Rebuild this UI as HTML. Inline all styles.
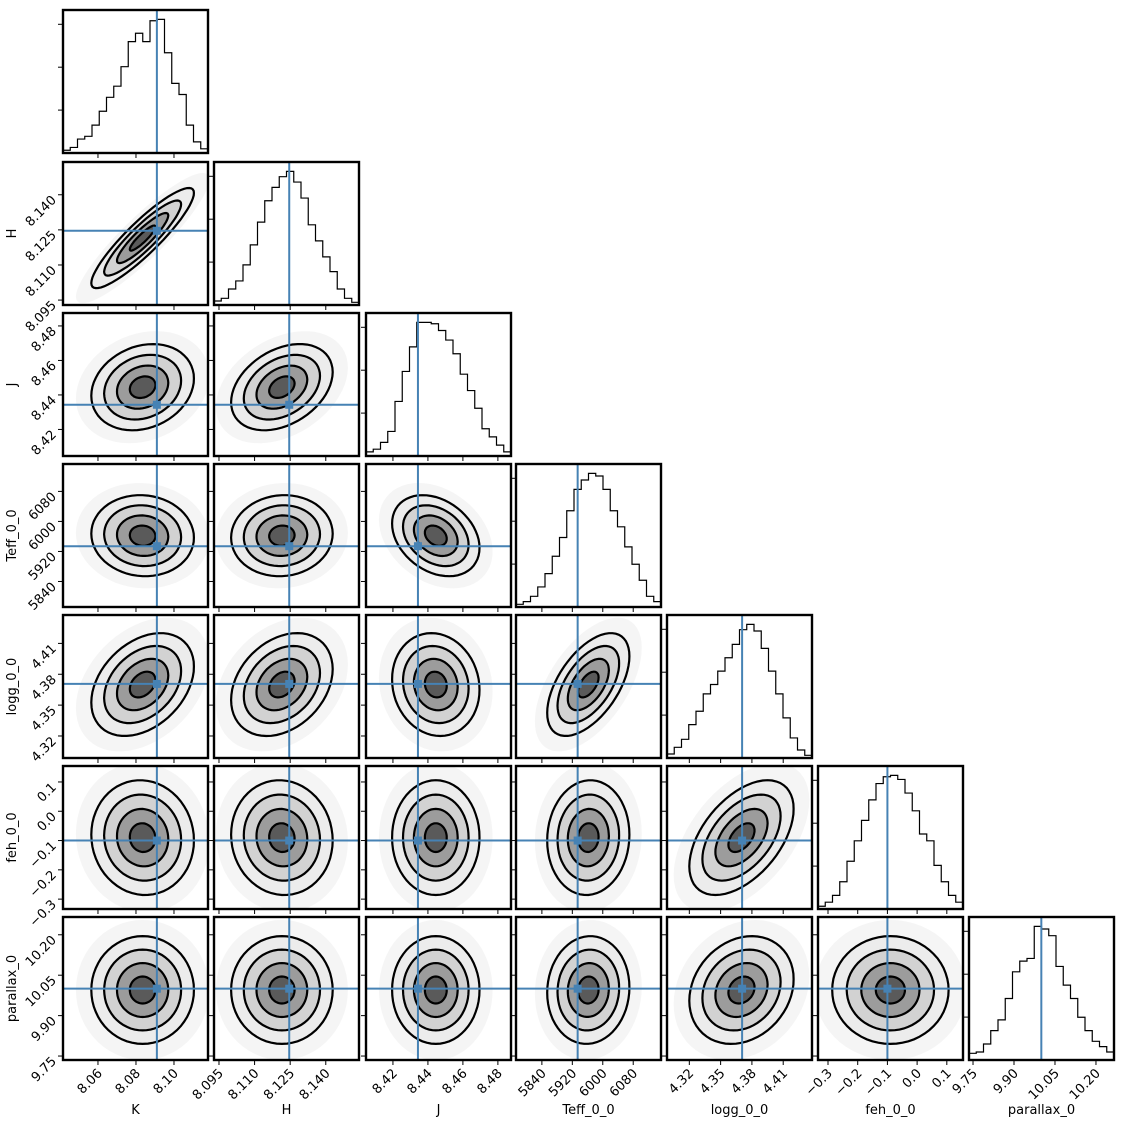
<!DOCTYPE html>
<html><head><meta charset="utf-8"><style>
html,body{margin:0;padding:0;background:#fff;}
svg{display:block;font-family:"DejaVu Sans","Liberation Sans",sans-serif;}
</style></head><body>
<svg id="chart" width="1125" height="1125" viewBox="0 0 1125 1125" xmlns="http://www.w3.org/2000/svg"></svg>
<script>
const names = ["K","H","J","Teff_0_0","logg_0_0","feh_0_0","parallax_0"];
const lows  = [8.0416, 8.0929, 8.4046, 5772, 4.2986, -0.3337, 9.7353];
const highs = [8.1179, 8.1540, 8.4875, 6153, 4.4376, 0.1545, 10.266];
const truths = [8.091, 8.1246, 8.4343, 5934, 4.3706, -0.1, 10.0];
const means = [8.0835, 8.1215, 8.4445, 5962, 4.370, -0.09, 9.995];
const sds   = [0.0135, 0.0107, 0.0125, 54, 0.025, 0.098, 0.1];
const tickVals = [[8.06,8.08,8.10],[8.095,8.110,8.125,8.140],[8.42,8.44,8.46,8.48],[5840,5920,6000,6080],[4.32,4.35,4.38,4.41],[-0.3,-0.2,-0.1,0.0,0.1],[9.75,9.90,10.05,10.20]];
const tickLabels = [["8.06","8.08","8.10"],["8.095","8.110","8.125","8.140"],["8.42","8.44","8.46","8.48"],["5840","5920","6000","6080"],["4.32","4.35","4.38","4.41"],["\u22120.3","\u22120.2","\u22120.1","0.0","0.1"],["9.75","9.90","10.05","10.20"]];
const corr = [
 [1,0,0,0,0,0,0],
 [0.9,1,0,0,0,0,0],
 [0.2,0.35,1,0,0,0,0],
 [-0.05,0.05,-0.3,1,0,0,0],
 [0.35,0.3,-0.1,0.55,1,0,0],
 [-0.05,-0.05,0.0,0.05,0.5,1,0],
 [0.0,0.0,0.0,0.05,0.2,0.0,1]
];
const histK = [2,4,10,12,20,30,40,48,62,80,86,80,95,96,72,50,42,20,8,3];
const histH = [3,5,12,18,30,45,62,78,88,96,100,92,80,60,48,36,25,12,5,2];
const histJ = [3,5,10,18,40,62,80,98,98,97,92,85,75,60,48,35,20,14,8,3];
const histTeff = [2,4,8,15,25,38,52,72,88,95,100,98,88,72,60,45,32,20,8,4];
const histLogg = [3,8,14,25,35,48,55,65,75,85,96,100,95,82,65,48,30,15,6,2];
const histFeh = [2,5,10,20,35,50,65,80,92,97,98,95,85,72,55,50,32,20,10,5];
const histPlx = [5,6,12,22,30,46,66,74,76,100,98,93,70,56,46,32,22,14,10,6];
const hists = [histK,histH,histJ,histTeff,histLogg,histFeh,histPlx];

const X0=[63,214,366,516,667,818,969], Y0=[10,162,313,464,615,766,917], W=145, H=143;
const BLUE="#4682b4";
const svg=document.getElementById('chart');
const NS="http://www.w3.org/2000/svg";
function mk(tag,attrs,parent){const e=document.createElementNS(NS,tag);for(const k in attrs)e.setAttribute(k,attrs[k]);(parent||svg).appendChild(e);return e;}
function sx(p,v,j){return X0[j]+(v-lows[p])/(highs[p]-lows[p])*W;}
function sy(p,v,i){return Y0[i]+H-(v-lows[p])/(highs[p]-lows[p])*H;}

for(let i=0;i<7;i++){
 for(let j=0;j<=i;j++){
  const g=mk('g',{});
  
  
  const cid='c'+i+'_'+j;
  const cp=mk('clipPath',{id:cid},g);
  mk('rect',{x:X0[j],y:Y0[i],width:W,height:H},cp);
  const inner=mk('g',{'clip-path':'url(#'+cid+')'},g);
  if(i===j){
   const c=hists[i]; const mx=Math.max(...c)*1.07;
   let d='M'+X0[j]+','+(Y0[i]+H);
   for(let b=0;b<c.length;b++){
     const xa=X0[j]+b*W/c.length, xb=X0[j]+(b+1)*W/c.length, yy=Y0[i]+H-c[b]/mx*H;
     d+=' L'+xa+','+yy+' L'+xb+','+yy;
   }
   d+=' L'+(X0[j]+W)+','+(Y0[i]+H);
   const h=mk('path',{d:d,fill:'none',stroke:'#000','stroke-width':1.2},inner);
   
   
   const tx=sx(i,truths[i],j);
   const tl=mk('line',{x1:tx,x2:tx,y1:Y0[i],y2:Y0[i]+H,stroke:BLUE,'stroke-width':2},inner);
   
   
  } else {
   const px=(highs[j]-lows[j]), py=(highs[i]-lows[i]);
   const sX=sds[j]/px*W, sY=sds[i]/py*H, r=corr[i][j];
   const cx=sx(j,means[j],j), cy=sy(i,means[i],i);
   const levels=[2.6,2.0,1.5,1.0,0.5];
   const fills=['#f5f5f5','#ececec','#d2d2d2','#9c9c9c','#5a5a5a'];
   levels.forEach((k,li)=>{
     let d='';
     for(let t=0;t<=60;t++){
       const a=t/60*2*Math.PI;
       const ux=Math.cos(a), uy=r*Math.cos(a)+Math.sqrt(1-r*r)*Math.sin(a);
       const X=cx+k*sX*ux, Y=cy-k*sY*uy;
       d+=(t?' L':'M')+X.toFixed(1)+','+Y.toFixed(1);
     }
     d+='Z';
     const e=mk('path',{d:d,fill:fills[li],stroke:li===0?'none':'#000','stroke-width':li===0?0:2.2},inner);
     
     
   });
   const tx=sx(j,truths[j],j), ty=sy(i,truths[i],i);
   mk('line',{x1:tx,x2:tx,y1:Y0[i],y2:Y0[i]+H,stroke:BLUE,'stroke-width':2},inner);
   mk('line',{x1:X0[j],x2:X0[j]+W,y1:ty,y2:ty,stroke:BLUE,'stroke-width':2},inner);
   const m=mk('rect',{x:tx-4,y:ty-4,width:8,height:8,fill:BLUE},inner);
   
   
  }
  const fr=mk('rect',{x:X0[j],y:Y0[i],width:W,height:H,fill:'none',stroke:'#000','stroke-width':2.4},g);
  
  
  tickVals[j].forEach((v,k)=>{
    const x=sx(j,v,j);
    mk('line',{x1:x,x2:x,y1:Y0[i]+H+1,y2:Y0[i]+H+5,stroke:'#000','stroke-width':1},g);
    if(i===6){
      const t=mk('text',{x:x+5,y:Y0[i]+H+14,'text-anchor':'end','font-size':13,transform:'rotate(-45 '+(x+5)+' '+(Y0[i]+H+14)+')'},g);
      t.textContent=tickLabels[j][k];
      
      
    }
  });
  if(i!==j){
    tickVals[i].forEach((v,k)=>{
      const y=sy(i,v,i);
      mk('line',{x1:X0[j]-5,x2:X0[j]-1,y1:y,y2:y,stroke:'#000','stroke-width':1},g);
      if(j===0){
        const t=mk('text',{x:X0[j]-6,y:y+6,'text-anchor':'end','font-size':13,transform:'rotate(-45 '+(X0[j]-6)+' '+(y+6)+')'},g);
        t.textContent=tickLabels[i][k];
        
        
      }
    });
  } else {
    [0.3,0.6,0.9].forEach(f=>{const y=Y0[i]+H-f*H; mk('line',{x1:X0[j]-5,x2:X0[j]-1,y1:y,y2:y,stroke:'#000','stroke-width':1},g);});
  }
 }
}
names.forEach((n,j)=>{
  const t=mk('text',{x:X0[j]+W/2,y:1114,'text-anchor':'middle','font-size':13});
  t.textContent=n;
  
  
  if(j>0){
    const yy=Y0[j]+H/2;
    const u=mk('text',{x:16,y:yy,'text-anchor':'middle','font-size':13,transform:'rotate(-90 16 '+yy+')'});
    u.textContent=n;
    
    
  }
});
</script>
</body></html>
